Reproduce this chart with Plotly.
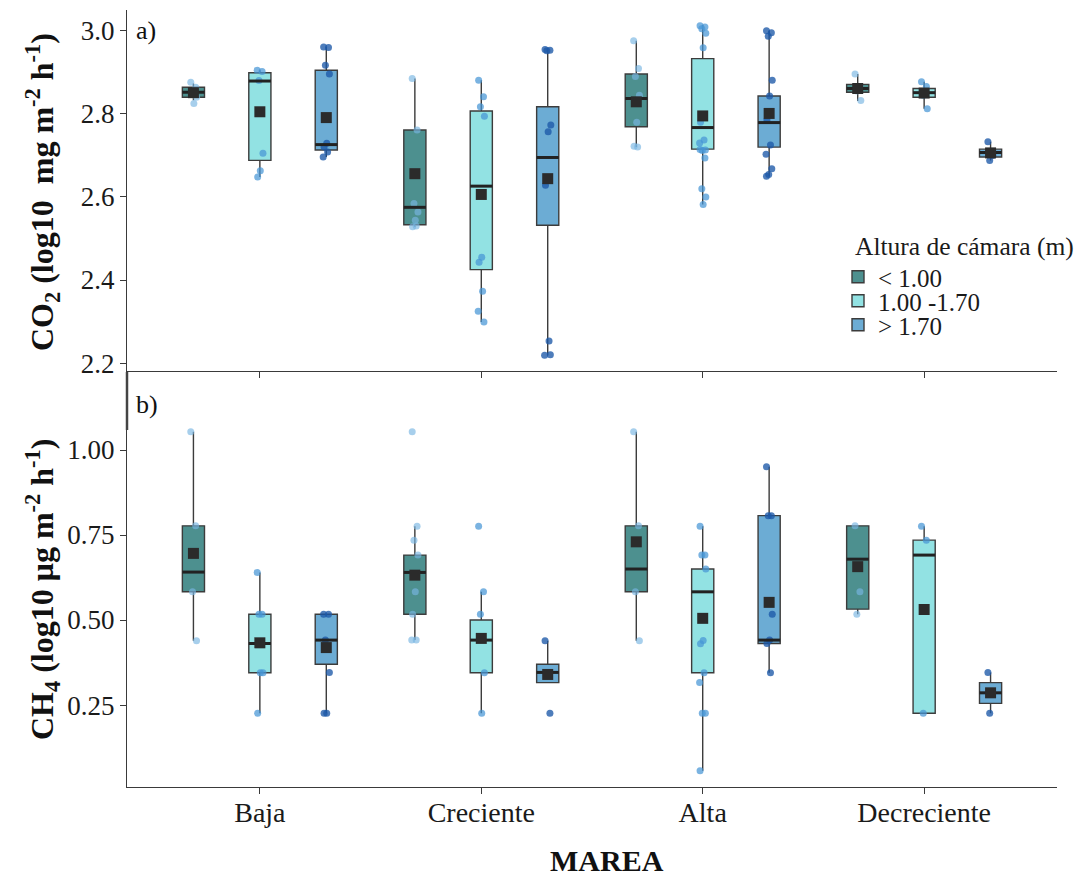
import plotly.graph_objects as go

# ---------------- data ----------------
categories = ["Baja", "Creciente", "Alta", "Decreciente"]
groups = ["< 1.00", "1.00 -1.70", "> 1.70"]

# CO2 (log10 mg m-2 h-1): per group, values for [Baja, Creciente, Alta, Decreciente]
co2_q1 = [[2.840, 2.533, 2.769, 2.852], [2.688, 2.425, 2.715, 2.840], [2.713, 2.532, 2.720, 2.696]]
co2_med = [[2.852, 2.575, 2.837, 2.861], [2.879, 2.626, 2.767, 2.851], [2.726, 2.695, 2.779, 2.707]]
co2_q3 = [[2.864, 2.761, 2.896, 2.871], [2.899, 2.807, 2.933, 2.861], [2.905, 2.817, 2.843, 2.715]]
co2_lo = [[2.833, 2.528, 2.720, 2.831], [2.648, 2.299, 2.582, 2.812], [2.696, 2.219, 2.650, 2.688]]
co2_hi = [[2.873, 2.885, 2.976, 2.896], [2.905, 2.881, 3.014, 2.877], [2.961, 2.954, 3.000, 2.733]]
co2_mean = [[2.851, 2.656, 2.829, 2.861], [2.805, 2.606, 2.795, 2.850], [2.791, 2.644, 2.801, 2.706]]
co2_pts_g1 = [[2.876, 2.864, 2.850, 2.840, 2.825],
              [2.885, 2.761, 2.584, 2.564, 2.544, 2.528, 2.530],
              [2.976, 2.909, 2.890, 2.845, 2.780, 2.722, 2.720],
              [2.896, 2.866, 2.855, 2.832]]
co2_pts_g2 = [[2.905, 2.902, 2.880, 2.705, 2.663, 2.648],
              [2.881, 2.841, 2.817, 2.794, 2.455, 2.443, 2.373, 2.325, 2.299],
              [3.012, 3.009, 3.005, 2.994, 2.959, 2.780, 2.737, 2.730, 2.713, 2.712, 2.714, 2.694, 2.620, 2.600, 2.582],
              [2.877, 2.866, 2.845, 2.812]]
co2_pts_g3 = [[2.961, 2.960, 2.917, 2.896, 2.729, 2.720, 2.708, 2.696],
              [2.955, 2.953, 2.952, 2.773, 2.757, 2.628, 2.253, 2.219, 2.220],
              [3.000, 2.995, 2.987, 2.881, 2.843, 2.785, 2.725, 2.703, 2.668, 2.654, 2.650],
              [2.733, 2.700, 2.688]]

# CH4 (log10 ug m-2 h-1)
ch4_q1 = [[0.583, 0.517, 0.583, 0.532], [0.345, 0.345, 0.345, 0.226], [0.370, 0.316, 0.431, 0.255]]
ch4_med = [[0.641, 0.640, 0.650, 0.679], [0.431, 0.441, 0.583, 0.691], [0.441, 0.346, 0.441, 0.286]]
ch4_q3 = [[0.777, 0.691, 0.777, 0.777], [0.517, 0.500, 0.650, 0.735], [0.517, 0.370, 0.807, 0.316]]
ch4_lo = [[0.439, 0.441, 0.439, 0.517], [0.226, 0.226, 0.057, 0.226], [0.226, 0.316, 0.345, 0.226]]
ch4_hi = [[1.054, 0.776, 1.054, 0.777], [0.640, 0.583, 0.776, 0.776], [0.517, 0.439, 0.951, 0.346]]
ch4_mean = [[0.696, 0.632, 0.730, 0.657], [0.433, 0.446, 0.505, 0.531], [0.419, 0.340, 0.552, 0.286]]
ch4_pts_g1 = [[1.054, 0.777, 0.583, 0.439],
              [1.054, 0.776, 0.735, 0.691, 0.583, 0.517, 0.441, 0.441],
              [1.054, 0.777, 0.583, 0.439],
              [0.777, 0.583, 0.517]]
ch4_pts_g2 = [[0.640, 0.517, 0.517, 0.345, 0.345, 0.226],
              [0.776, 0.583, 0.517, 0.345, 0.226],
              [0.776, 0.691, 0.691, 0.650, 0.440, 0.430, 0.345, 0.316, 0.226, 0.226, 0.057],
              [0.776, 0.735, 0.226]]
ch4_pts_g3 = [[0.517, 0.517, 0.441, 0.346, 0.226, 0.226],
              [0.439, 0.226],
              [0.951, 0.807, 0.807, 0.517, 0.441, 0.431, 0.345],
              [0.346, 0.286, 0.226]]

co2_ticks = [2.2, 2.4, 2.6, 2.8, 3.0]
ch4_ticks = [0.25, 0.50, 0.75, 1.00]

# ---------------- style ----------------
fills = ["rgba(62,135,134,0.92)", "rgba(140,224,226,0.95)", "rgba(100,168,210,0.95)"]
pt_colors = ["rgba(120,182,226,0.65)", "rgba(70,150,214,0.72)", "rgba(28,88,168,0.78)"]
offsets = [-0.3, 0.0, 0.3]
box_w = 0.1
jit = [-0.012, 0.010, -0.004, 0.014, 0.002, -0.010, 0.006, -0.014, 0.012, -0.002]
FONT = "Liberation Serif"
legend_ids = ["legend", "legend2", "legend3"]

fig = go.Figure()


def add_panel(q1, med, q3, lo, hi, mean, pts_list, xa, ya, legend):
    for g in range(3):
        xs = [i + 1 + offsets[g] for i in range(len(categories))]
        fig.add_trace(go.Box(
            x=xs, q1=q1[g], median=med[g], q3=q3[g],
            lowerfence=lo[g], upperfence=hi[g],
            width=box_w, whiskerwidth=0, boxpoints=False,
            fillcolor=fills[g], line=dict(color="#3c3c3c", width=1.4),
            name=groups[g], legendgroup=groups[g], showlegend=legend,
            legend=legend_ids[g],
            xaxis=xa, yaxis=ya, hoverinfo="skip"))
        # jittered points
        px, py = [], []
        for i, vals in enumerate(pts_list[g]):
            for k, v in enumerate(vals):
                px.append(xs[i] + jit[k % len(jit)])
                py.append(v)
        fig.add_trace(go.Scatter(
            x=px, y=py, mode="markers",
            marker=dict(size=7, color=pt_colors[g], line=dict(width=0)),
            showlegend=False, xaxis=xa, yaxis=ya, hoverinfo="skip"))
        # thick median segments
        mx, my = [], []
        for i in range(len(categories)):
            mx += [xs[i] - box_w / 2, xs[i] + box_w / 2, None]
            my += [med[g][i], med[g][i], None]
        fig.add_trace(go.Scatter(
            x=mx, y=my, mode="lines", line=dict(color="#222222", width=3),
            showlegend=False, xaxis=xa, yaxis=ya, hoverinfo="skip"))
        # mean squares
        fig.add_trace(go.Scatter(
            x=xs, y=mean[g], mode="markers",
            marker=dict(symbol="square", size=11, color="#2b2b2b"),
            showlegend=False, xaxis=xa, yaxis=ya, hoverinfo="skip"))


add_panel(co2_q1, co2_med, co2_q3, co2_lo, co2_hi, co2_mean,
          [co2_pts_g1, co2_pts_g2, co2_pts_g3], "x", "y", True)
add_panel(ch4_q1, ch4_med, ch4_q3, ch4_lo, ch4_hi, ch4_mean,
          [ch4_pts_g1, ch4_pts_g2, ch4_pts_g3], "x2", "y2", False)

# ---------------- layout ----------------
OFF = 8  # page body margin offset of the rendered figure
W, H = 1075, 870
ml, mr, mt, mb = 119, 26, 2, 91
pw, ph = W - ml - mr, H - mt - mb


def px_x(sx):
    return (sx - OFF - ml) / pw


def px_y(sy):
    return (H - mb - (sy - OFF)) / ph


axis_common = dict(showgrid=False, zeroline=False, showline=True,
                   linecolor="#3a3a3a", linewidth=1.3, ticks="outside",
                   ticklen=6, tickcolor="#3a3a3a", tickwidth=1.3,
                   tickfont=dict(family=FONT, size=27, color="#1a1a1a"))

leg_common = dict(xanchor="left", yanchor="middle", bgcolor="rgba(0,0,0,0)",
                  font=dict(family=FONT, size=25, color="#1a1a1a"))

fig.update_layout(
    width=W, height=H,
    margin=dict(l=ml, r=mr, t=mt, b=mb),
    paper_bgcolor="white", plot_bgcolor="white",
    boxmode="overlay",
    xaxis=dict(axis_common, domain=[0, 1], range=[0.4, 4.6], anchor="y",
               tickvals=[1, 2, 3, 4], showticklabels=False),
    yaxis=dict(axis_common, domain=[px_y(371), 1], range=[2.181, 3.05],
               anchor="x", tickvals=co2_ticks, tickformat=".1f"),
    xaxis2=dict(axis_common, domain=[0, 1], range=[0.4, 4.6], anchor="y2",
                tickvals=[1, 2, 3, 4], ticktext=categories,
                tickfont=dict(family=FONT, size=28, color="#1a1a1a"),
                ticklabelstandoff=-6),
    yaxis2=dict(axis_common, domain=[0, px_y(373)], range=[0.009, 1.2265],
                anchor="x2", tickvals=ch4_ticks, tickformat=".2f"),
    legend=dict(leg_common, x=px_x(838), y=px_y(277)),
    legend2=dict(leg_common, x=px_x(838), y=px_y(301)),
    legend3=dict(leg_common, x=px_x(838), y=px_y(325)),
)

fig.add_shape(type="line", xref="paper", yref="paper",
              x0=0, x1=0, y0=px_y(430), y1=px_y(372),
              line=dict(color="#444444", width=2.5))

ann_font = dict(family=FONT, size=26, color="#111111")
fig.add_annotation(text="Altura de cámara (m)", xref="paper", yref="paper",
                   x=px_x(853), y=px_y(246), xanchor="left", yanchor="middle",
                   showarrow=False, font=dict(family=FONT, size=25.5, color="#1a1a1a"))
fig.add_annotation(text="a)", xref="paper", yref="paper", x=px_x(134), y=px_y(30),
                   xanchor="left", yanchor="middle", showarrow=False, font=ann_font)
fig.add_annotation(text="b)", xref="paper", yref="paper", x=px_x(134), y=px_y(405),
                   xanchor="left", yanchor="middle", showarrow=False, font=ann_font)
fig.add_annotation(text="<b>CO<sub>2</sub> (log10  mg m<sup>-2</sup> h<sup>-1</sup>)</b>",
                   xref="paper", yref="paper", x=px_x(42), y=px_y(192),
                   textangle=-90, showarrow=False, xanchor="center", yanchor="middle",
                   font=dict(family=FONT, size=32, color="#111111"))
fig.add_annotation(text="<b>CH<sub>4</sub> (log10 μg m<sup>-2</sup> h<sup>-1</sup>)</b>",
                   xref="paper", yref="paper", x=px_x(42), y=px_y(590),
                   textangle=-90, showarrow=False, xanchor="center", yanchor="middle",
                   font=dict(family=FONT, size=32, color="#111111"))
fig.add_annotation(text="<b>MAREA</b>", xref="paper", yref="paper",
                   x=px_x(607), y=px_y(860), showarrow=False,
                   xanchor="center", yanchor="middle",
                   font=dict(family=FONT, size=30, color="#111111"))

fig.write_html("out.html")
